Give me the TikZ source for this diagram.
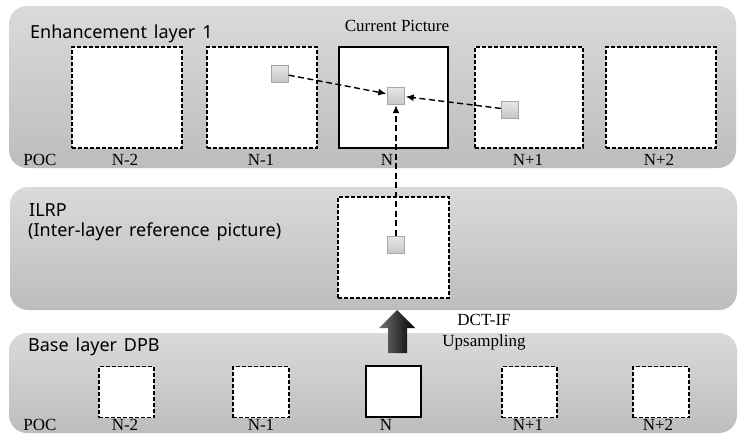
\documentclass[tikz,border=0pt]{standalone}
\usepackage{fontspec}
\setmainfont{Liberation Serif}
\setsansfont{Noto Sans}
\usetikzlibrary{arrows.meta}
\definecolor{ptop}{HTML}{DADADA}
\definecolor{pbot}{HTML}{BDBDBD}
\begin{document}
\begin{tikzpicture}[x=1pt,y=-1pt,
  panel/.style={draw=none, rounded corners=18pt, top color=ptop, bottom color=pbot, inner sep=0pt},
  picbox/.style={draw, fill=white, line width=1.1pt, dash pattern=on 4pt off 2pt, inner sep=0pt},
  curbox/.style={draw, fill=white, line width=1.4pt, inner sep=0pt},
  blk/.style={draw=gray!70, top color=gray!18, bottom color=gray!45, minimum size=17pt, inner sep=0pt},
  mv/.style={line width=1.4pt, dash pattern=on 6pt off 3.5pt, -{Latex[length=8pt,width=7pt]}, shorten >=1pt},
  lab/.style={font=\fontsize{17}{19}\selectfont, inner sep=0pt, anchor=base},
  ttl/.style={font=\sffamily\fontsize{18}{20}\selectfont, execute at begin node={\spaceskip=0.38em\relax}, inner sep=0pt, anchor=base west}
]
\useasboundingbox (0,0) rectangle (738,434);

% panels
\node[panel, minimum width=727pt, minimum height=162pt] (el) at (372.5,87) {};
\node[panel, minimum width=727pt, minimum height=123pt] (il) at (373.5,248.5) {};
\node[panel, minimum width=728pt, minimum height=100pt] (bl) at (373,383) {};

% titles
\node[ttl] (t1) at (30,38.5) {Enhancement layer 1};
\node[ttl] (t2) at (29,216) {ILRP};
\node[ttl] (t3) at (28,236) {(Inter-layer reference picture)};
\node[ttl] (t4) at (28,351) {Base layer DPB};
\node[lab] (cp) at (397,31.5) {Current Picture};

% enhancement layer pictures
\node[picbox, minimum width=110pt, minimum height=101pt] (e1) at (127,97.5) {};
\node[picbox, minimum width=110pt, minimum height=101pt] (e2) at (262,97.5) {};
\node[curbox, minimum width=109pt, minimum height=101pt] (e3) at (393.5,97.5) {};
\node[picbox, minimum width=108pt, minimum height=101pt] (e4) at (529,97.5) {};
\node[picbox, minimum width=110pt, minimum height=101pt] (e5) at (661,97.5) {};

% ILRP picture
\node[picbox, minimum width=111pt, minimum height=101pt] (ip) at (393.5,247.5) {};

% base layer pictures
\node[picbox, minimum width=55pt, minimum height=51pt] (b1) at (126.5,392) {};
\node[picbox, minimum width=56pt, minimum height=51pt] (b2) at (261,392) {};
\node[curbox, minimum width=55pt, minimum height=51pt] (b3) at (393.5,391.5) {};
\node[picbox, minimum width=55pt, minimum height=51pt] (b4) at (529.5,392) {};
\node[picbox, minimum width=56pt, minimum height=51pt] (b5) at (661,392) {};

% POC labels
\node[lab] (pe) at (40,165) {POC};
\node[lab] at (125,165) {N-2};
\node[lab] at (261,165) {N-1};
\node[lab] at (387,165) {N};
\node[lab] at (528,165) {N+1};
\node[lab] at (659,165) {N+2};
\node[lab] (pb) at (40,430) {POC};
\node[lab] at (125,430) {N-2};
\node[lab] at (261,430) {N-1};
\node[lab] at (386,430) {N};
\node[lab] at (528,430) {N+1};
\node[lab] at (658,430) {N+2};

% blocks
\node[blk] (s1) at (280,73.5) {};
\node[blk] (s0) at (396,95.5) {};
\node[blk] (s2) at (509.5,109.5) {};
\node[blk] (s3) at (396,244.5) {};

% motion / inter-layer prediction
\draw[mv] (s1) -- (s0);
\draw[mv] (s2) -- (s0);
\draw[mv] (s3) -- (s0);

% upsampling arrow
\shade[left color=black!55, right color=black] (388,353) -- (388,328) -- (379,328) -- (397,310) -- (415,328) -- (407,328) -- (407,353) -- cycle;
\node[lab] (dct) at (484,325) {DCT-IF};
\node[lab] (ups) at (484,346) {Upsampling};
\end{tikzpicture}
\end{document}
